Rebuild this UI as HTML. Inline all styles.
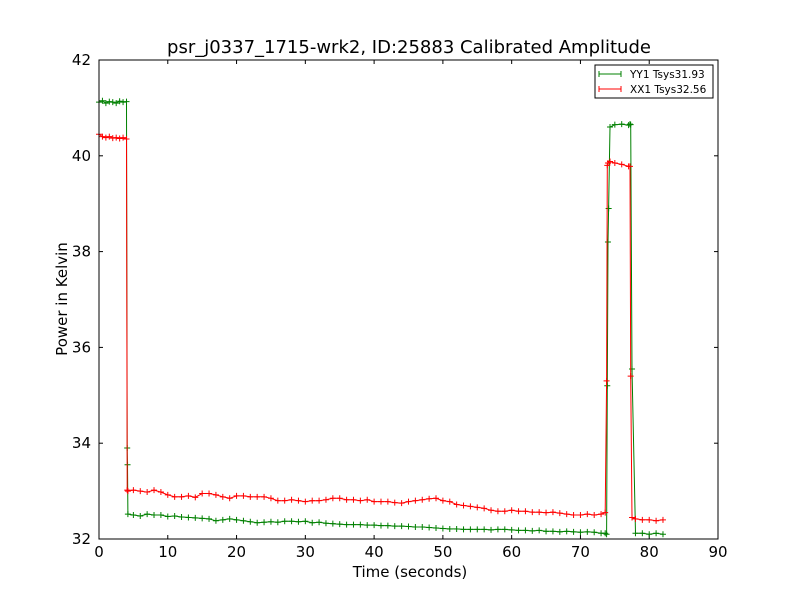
<!DOCTYPE html>
<html><head><meta charset="utf-8"><style>
body{margin:0;background:#fff;}
svg{display:block;font-family:"DejaVu Sans","Liberation Sans",sans-serif;}
</style></head><body>
<svg id="chart" width="800" height="600">
<rect width="800" height="600" fill="#fff"/>
<text x="409" y="53" font-size="18" text-anchor="middle">psr_j0337_1715-wrk2, ID:25883 Calibrated Amplitude</text>
<text x="410" y="577" font-size="15" text-anchor="middle">Time (seconds)</text>
<text x="67" y="299" font-size="15" text-anchor="middle" transform="rotate(-90 67 299)">Power in Kelvin</text>
<g id="plot"></g>
<rect x="99" y="60" width="619" height="479" fill="none" stroke="#000"/>
<g>
<rect x="595" y="65" width="118" height="33" fill="#fff" stroke="#000"/>
<g>
<line x1="599" y1="74" x2="621" y2="74" stroke="green"/><line x1="599" y1="71" x2="599" y2="77" stroke="green"/><line x1="621" y1="71" x2="621" y2="77" stroke="green"/>
<text x="630" y="78" font-size="10.5">YY1 Tsys31.93</text></g>
<g>
<line x1="599" y1="89" x2="621" y2="89" stroke="red"/><line x1="599" y1="86" x2="599" y2="92" stroke="red"/><line x1="621" y1="86" x2="621" y2="92" stroke="red"/>
<text x="630" y="93" font-size="10.5">XX1 Tsys32.56</text></g>
</g>
</svg>
<script>
const xTicks=[0,10,20,30,40,50,60,70,80,90];
const yTicks=[32,34,36,38,40,42];
const yyTime=[0,0.5,1,1.5,2,2.5,3,3.5,4,4.1,4.15,4.2,5,6,7,8,9,10,11,12,13,14,15,16,17,18,19,20,21,22,23,24,25,26,27,28,29,30,31,32,33,34,35,36,37,38,39,40,41,42,43,44,45,46,47,48,49,50,51,52,53,54,55,56,57,58,59,60,61,62,63,64,65,66,67,68,69,70,71,72,73,73.6,73.8,73.9,74,74.1,74.3,75,76,77,77.2,77.3,77.5,78,79,80,81,82];
const yyVals=[41.12,41.15,41.1,41.13,41.12,41.1,41.14,41.12,41.13,33.9,33.55,32.52,32.5,32.48,32.52,32.5,32.5,32.47,32.48,32.46,32.45,32.44,32.43,32.42,32.38,32.4,32.42,32.4,32.38,32.36,32.34,32.35,32.36,32.35,32.37,32.37,32.36,32.37,32.34,32.35,32.33,32.32,32.31,32.3,32.3,32.3,32.29,32.29,32.28,32.28,32.27,32.27,32.26,32.25,32.25,32.24,32.23,32.22,32.21,32.21,32.2,32.2,32.2,32.2,32.19,32.2,32.2,32.19,32.18,32.18,32.17,32.18,32.16,32.16,32.15,32.16,32.15,32.14,32.15,32.14,32.12,32.12,32.1,35.2,38.2,38.9,40.6,40.65,40.66,40.64,40.66,40.65,35.55,32.12,32.12,32.1,32.12,32.1,32.1];
const xxTime=[0,0.5,1,1.5,2,2.5,3,3.5,4,4.1,4.2,5,6,7,8,9,10,11,12,13,14,15,16,17,18,19,20,21,22,23,24,25,26,27,28,29,30,31,32,33,34,35,36,37,38,39,40,41,42,43,44,45,46,47,48,49,50,51,52,53,54,55,56,57,58,59,60,61,62,63,64,65,66,67,68,69,70,71,72,73,73.6,73.8,73.9,74,74.3,75,76,77,77.2,77.3,77.5,78,79,80,81,82];
const xxVals=[40.45,40.4,40.38,40.4,40.37,40.38,40.36,40.38,40.35,33.02,33.0,33.02,33.0,32.98,33.02,32.98,32.92,32.88,32.88,32.9,32.87,32.95,32.95,32.92,32.88,32.85,32.9,32.9,32.88,32.88,32.88,32.85,32.8,32.8,32.82,32.8,32.78,32.8,32.8,32.82,32.85,32.85,32.82,32.82,32.8,32.82,32.78,32.78,32.78,32.76,32.75,32.78,32.8,32.82,32.84,32.85,32.8,32.78,32.72,32.7,32.68,32.66,32.64,32.6,32.58,32.58,32.6,32.58,32.58,32.56,32.56,32.55,32.56,32.54,32.52,32.5,32.5,32.52,32.5,32.52,32.55,35.3,39.8,39.85,39.88,39.85,39.82,39.78,39.78,35.4,32.45,32.42,32.4,32.4,32.38,32.4];
const X=v=>99+(v/90)*619;
const Y=v=>539-((v-32)/10)*479;
const NS="http://www.w3.org/2000/svg";
const plot=document.getElementById('plot');
function mk(tag,attrs){const e=document.createElementNS(NS,tag);for(const k in attrs)e.setAttribute(k,attrs[k]);plot.appendChild(e);return e;}
xTicks.forEach(t=>{
  const g=mk('g',{});
  
  
  const x=X(t);
  g.innerHTML=`<line x1="${x}" y1="539" x2="${x}" y2="535" stroke="#000"/><line x1="${x}" y1="60" x2="${x}" y2="64" stroke="#000"/><text x="${x}" y="557" font-size="15" text-anchor="middle">${t}</text>`;
});
yTicks.forEach(t=>{
  const g=mk('g',{});
  
  
  const y=Y(t);
  g.innerHTML=`<line x1="99" y1="${y}" x2="103" y2="${y}" stroke="#000"/><line x1="718" y1="${y}" x2="714" y2="${y}" stroke="#000"/><text x="91" y="${y+5}" font-size="15" text-anchor="end">${t}</text>`;
});
function series(ts,vs,color,name){
  const g=mk('g',{});
  
  
  const pts=ts.map((t,i)=>X(t).toFixed(1)+','+Y(vs[i]).toFixed(1)).join(' ');
  let h=`<polyline points="${pts}" fill="none" stroke="${color}" stroke-width="1"/>`;
  ts.forEach((t,i)=>{const x=X(t),y=Y(vs[i]);h+=`<path d="M${x-3},${y}H${x+3}M${x},${y-3}V${y+3}" stroke="${color}"/>`;});
  g.innerHTML=h;
}
series(yyTime,yyVals,'green','series-yy1');
series(xxTime,xxVals,'red','series-xx1');
</script>
</body></html>
